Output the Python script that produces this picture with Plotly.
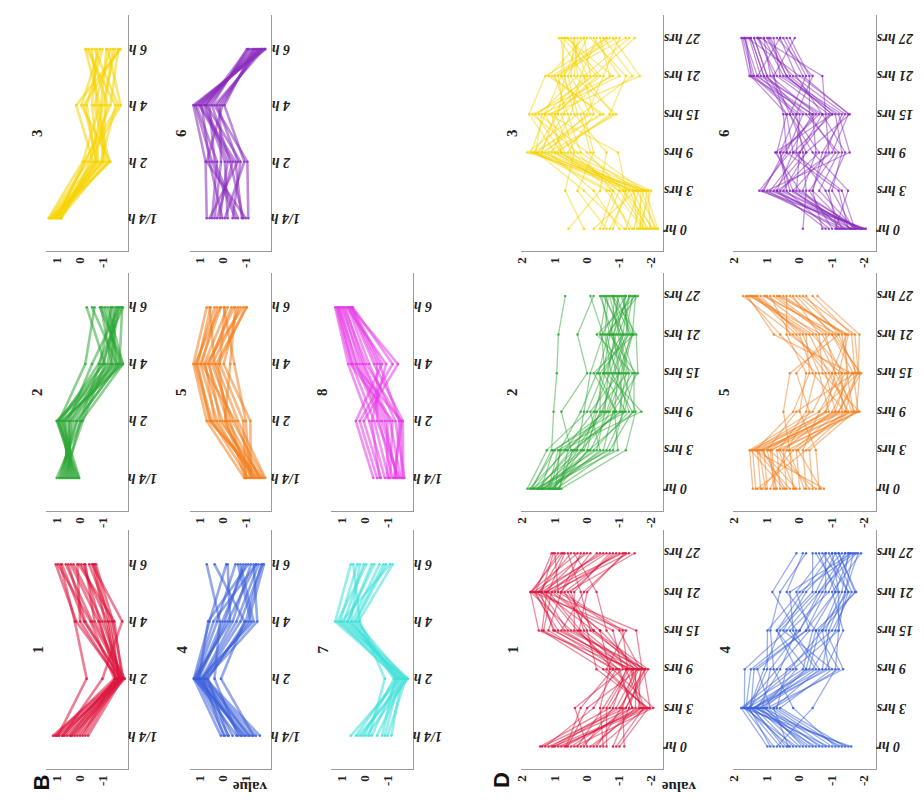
import plotly.graph_objects as go

# ---------------- data ----------------
B_TIMES = ["1/4 h", "2 h", "4 h", "6 h"]
D_TIMES = ["0 hr", "3 hrs", "9 hrs", "15 hrs", "21 hrs", "27 hrs"]
B_VALUE_TICKS = [1, 0, -1]
D_VALUE_TICKS = [2, 1, 0, -1, -2]

COLORS = {1: "#DC143C", 2: "#2EA836", 3: "#F5D300", 4: "#3A5FD9",
          5: "#F2801F", 6: "#8A2BBE", 7: "#3FE0D8", 8: "#E63CE6"}

# Panel B profiles (values at 1/4 h, 2 h, 4 h, 6 h)
B_CLUSTER_1 = [
    [1.45, -1.36, 0.45, 1.33], [1.30, -1.47, 0.11, 1.07], [1.19, -1.58, -0.23, 0.90],
    [1.07, -1.41, -0.51, 0.68], [0.96, -1.30, 0.28, 0.40], [0.85, -1.53, -0.68, 0.57],
    [0.73, -1.24, -0.90, 0.23], [0.62, -1.64, -0.34, 0.06], [0.51, -1.36, -1.07, -0.11],
    [0.40, -1.47, -0.79, -0.28], [0.28, -1.58, -1.13, -0.40], [0.17, -1.24, -0.57, 0.11],
    [0.06, -1.41, -0.96, -0.34], [-0.06, -1.53, -1.19, 0.34], [1.24, 0.00, 0.51, 1.13],
    [1.02, -0.68, -1.53, -0.23], [1.36, -1.19, -0.17, 1.24], [0.68, -1.47, 0.06, 0.79],
]
B_CLUSTER_2 = [
    [1.29, 0.23, -1.56, -0.57], [1.19, 0.40, -1.36, -0.79], [1.07, 0.57, -1.13, -1.02],
    [0.96, 0.73, -0.90, -1.24], [0.85, 0.90, -0.68, -1.47], [0.73, 1.02, -1.47, -0.68],
    [0.62, 1.13, -0.51, -1.56], [0.51, 1.24, -1.24, -1.13], [0.40, 1.29, -1.02, -1.36],
    [0.32, 1.07, -1.56, -0.90], [0.68, 0.79, -0.23, -1.41], [1.02, 0.17, -0.79, 0.00],
    [0.45, 1.19, 0.06, -0.34], [1.13, 0.45, -1.41, -1.53], [0.79, 0.68, -1.07, -0.62],
    [0.57, 0.96, -1.30, -0.23], [0.34, 1.24, -0.73, -1.30], [0.90, 0.28, -0.57, -1.07],
]
B_CLUSTER_3 = [
    [1.64, 0.17, -0.57, 0.06], [1.58, -0.06, -1.47, -0.90], [1.53, -0.28, 0.45, -1.47],
    [1.47, -0.51, -0.23, -0.45], [1.41, -0.73, -0.79, -1.13], [1.36, -0.96, -0.45, -0.23],
    [1.30, 0.06, -1.02, -1.36], [1.24, -0.40, 0.00, -0.68], [1.19, -0.62, -1.24, 0.00],
    [1.13, -0.85, -0.34, -1.02], [1.08, -0.17, -0.68, -1.24], [1.56, -1.02, 0.23, -0.57],
    [1.27, 0.11, -1.36, -0.34], [1.45, -0.68, -0.62, -0.85], [1.33, -0.34, -0.90, -0.11],
    [1.15, -0.45, 0.11, -1.41],
]
B_CLUSTER_4 = [
    [0.40, 1.58, 0.90, 0.17], [0.23, 1.47, 0.57, -0.23], [0.06, 1.36, 0.23, -0.57],
    [-0.11, 1.24, -0.11, -0.90], [-0.28, 1.53, 0.73, -1.13], [-0.45, 1.13, -0.45, -1.41],
    [-0.62, 1.41, 0.34, -0.68], [-0.79, 1.02, -0.79, -1.47], [-0.96, 1.30, -1.02, -0.45],
    [-1.13, 1.19, -0.28, -1.24], [-1.30, 1.07, -1.18, -1.02], [-0.68, 1.58, 0.00, 0.11],
    [-0.34, 0.68, 0.45, 1.02], [-1.02, 0.40, -0.62, 0.68], [0.11, 0.96, -0.68, -1.36],
    [-0.51, 1.36, 0.96, -0.79], [-0.85, 1.47, 0.11, -1.13], [0.28, 1.19, -0.90, -0.34],
]
B_CLUSTER_5 = [
    [-0.62, 1.02, 1.60, 1.02], [-0.79, 0.79, 1.47, 0.68], [-0.96, 0.57, 1.30, 0.40],
    [-1.13, 0.34, 1.13, 0.11], [-1.30, 0.11, 0.96, -0.17], [-1.47, -0.11, 0.79, -0.45],
    [-1.53, -0.34, 0.62, -0.73], [-0.68, -0.57, 0.45, 0.23], [-0.90, -0.88, 0.28, -0.34],
    [-1.36, 0.90, 1.41, 0.85], [-1.07, 0.68, 1.07, -0.57], [-1.24, -0.23, 1.24, 0.57],
    [-0.73, 0.00, 0.68, 0.90], [-1.41, 0.45, 0.90, -0.06], [-0.85, -0.68, -0.18, 0.28],
    [-1.02, 0.23, 0.00, -0.23], [-1.19, 0.85, 1.53, 0.45], [-0.66, 0.17, 0.51, -0.68],
]
B_CLUSTER_6 = [
    [1.02, 1.07, 1.60, -1.53], [0.79, 0.57, 1.47, -1.41], [0.57, -0.11, 1.36, -1.30],
    [0.34, 0.90, 1.24, -1.19], [0.11, 0.23, 1.13, -1.07], [-0.11, -0.45, 1.02, -0.96],
    [-0.34, 0.68, 0.90, -0.85], [-0.57, 0.00, 0.79, -0.73], [-0.79, -0.75, 0.68, -1.47],
    [0.90, -0.34, 0.57, -1.36], [0.68, 0.40, 0.45, -1.24], [-0.68, 1.02, 0.34, -1.13],
    [0.23, -0.62, 0.25, -1.02], [-0.23, 0.79, 1.53, -1.53], [0.45, 0.11, 1.07, -0.79],
    [-0.51, -0.23, 1.30, -1.36],
]
B_CLUSTER_7 = [
    [0.90, -1.24, 1.57, 0.90], [0.68, -1.07, 1.36, 0.62], [0.45, -1.36, 1.19, 0.34],
    [0.23, -1.56, 1.02, 0.00], [0.00, -1.13, 0.85, -0.34], [-0.23, -1.41, 0.68, -0.62],
    [-0.45, -1.02, 0.57, -0.90], [-0.68, -1.47, 1.47, 0.23], [-0.85, -1.30, 1.07, -0.11],
    [0.11, -0.57, 0.51, 0.79], [0.57, -1.53, 1.30, -0.79], [-0.57, -1.19, 0.90, 0.51],
    [0.34, -0.96, 0.73, -0.51],
]
B_CLUSTER_8 = [
    [-0.07, 0.68, -0.45, 0.85], [-0.23, 0.51, -0.90, 0.81], [-0.40, 0.34, -1.13, 0.90],
    [-0.57, 0.11, 1.01, 1.57], [-0.73, -0.11, 0.85, 1.47], [-0.90, -0.34, 0.68, 1.36],
    [-1.07, -0.57, 0.51, 1.24], [-1.24, -0.79, 0.34, 1.13], [-1.41, -1.02, 0.11, 1.02],
    [-1.36, -1.34, -0.11, 0.96], [-1.02, -1.19, -0.34, 0.88], [-0.79, -0.90, 0.90, 1.53],
    [-1.13, -0.45, 0.62, 1.41], [-1.30, -1.24, 0.23, 1.19], [-0.34, 0.00, -0.62, 1.07],
    [-0.68, -0.68, 0.40, 1.30], [-0.96, -1.30, 0.79, 1.45], [-1.19, -0.23, -0.23, 0.93],
]

# Panel D profiles (values at 0, 3, 9, 15, 21, 27 hrs)
D_CLUSTER_1 = [
    [1.66, -0.50, -1.20, 1.70, 1.96, 0.50], [1.40, -1.20, -0.80, 1.20, 1.80, 1.30],
    [1.20, -0.80, -1.60, 0.80, 1.60, -0.20], [1.00, -1.50, -1.00, 0.40, 1.40, 0.90],
    [0.80, 0.20, -1.40, -0.20, 1.20, -0.80], [0.60, -1.85, -0.60, 1.40, 1.00, 0.10],
    [0.40, -1.00, -1.69, 0.00, 0.80, -1.27], [0.20, 0.58, -0.90, -0.60, 1.70, 0.70],
    [0.00, -1.30, -1.30, 0.60, 0.60, -0.50], [-0.20, -1.60, -0.40, -1.00, 1.90, 1.10],
    [-0.40, -0.40, -1.10, 1.00, 0.30, -1.00], [-0.60, -1.10, -1.50, -1.32, 1.50, 0.30],
    [-0.80, -1.70, -0.09, 0.20, 0.90, -0.70], [-0.95, -0.90, -1.25, -0.40, -0.09, 0.60],
    [1.50, 0.00, -0.70, 1.55, 1.30, -1.10], [0.90, -1.40, -1.45, -0.80, 1.10, 1.20],
    [0.30, -0.60, -1.00, 0.90, 1.75, -0.30], [1.10, -1.75, -1.55, 0.10, 0.40, 0.80],
    [1.30, -0.70, -1.35, 1.10, 1.85, 0.20], [0.70, -1.20, -0.75, 0.50, 1.50, -0.90],
    [0.10, -1.45, -1.15, 1.25, 1.65, 0.95], [-0.30, -0.20, -0.50, -0.20, 1.30, -0.10],
    [1.60, -1.00, -1.60, 0.70, 1.95, 1.00], [-0.70, -1.55, -1.20, 0.30, 0.70, -0.60],
    [0.50, -0.30, -1.05, -0.90, 1.00, 0.40], [1.25, -1.65, -0.30, 1.60, 1.45, -0.40],
    [-0.10, -0.85, -1.40, 0.00, 1.60, 1.25], [0.85, 0.40, -0.60, 0.45, 0.20, -0.95],
]
D_CLUSTER_2 = [
    [2.05, 1.45, 0.20, -0.30, -0.50, -0.80], [1.95, 1.20, -0.40, -0.80, -0.20, -0.40],
    [1.85, 0.90, 0.00, -0.50, -0.90, -1.10], [1.75, 0.60, -0.80, -1.00, -0.60, -0.20],
    [1.65, 0.30, -0.20, -0.20, -1.10, -0.90], [1.55, 0.00, -1.10, -0.70, -0.40, -1.37],
    [1.45, -0.30, -0.60, -1.37, -1.32, -0.60], [1.35, 1.00, -1.48, -0.40, -0.70, -1.00],
    [1.25, 0.50, 0.30, 0.10, -0.30, 0.10], [1.15, -0.60, -0.90, -1.10, -0.80, -0.50],
    [1.05, 0.80, -0.30, -0.60, -1.00, -1.20], [1.00, -1.00, -1.30, -0.90, -1.20, -0.70],
    [1.90, 1.30, 1.24, 1.14, 1.09, 0.88], [1.70, 0.70, 1.00, 0.20, 0.50, 0.00],
    [1.60, 0.10, -0.50, -1.20, -0.10, -1.30], [1.40, 1.10, -1.00, -0.30, -0.95, -0.30],
    [1.30, -0.20, 0.10, -0.80, -0.60, -1.10], [1.20, 0.40, -0.70, 0.00, -1.25, -0.85],
    [1.80, -0.50, -1.20, -0.55, -0.35, -0.45], [1.10, 0.20, -0.10, -1.05, -0.75, -1.25],
    [1.98, 0.85, -0.45, -0.95, -0.55, -0.65], [1.50, 0.55, -0.25, -0.65, -1.05, -0.95],
    [1.62, 1.25, -0.70, -0.15, -0.45, -1.15], [1.28, 0.15, -1.25, -1.25, -0.85, -0.35],
    [1.72, -0.10, -0.35, -0.45, -0.65, -0.75], [1.08, 0.65, -0.85, -0.85, -1.15, -0.55],
    [1.88, 0.35, -0.05, -0.35, -0.25, -1.00], [1.38, -0.40, -0.95, -1.30, -0.50, -0.25],
    [1.18, 1.05, 0.40, -0.10, -0.90, -0.60], [1.58, -0.75, -0.65, -0.75, -1.20, -1.30],
]
D_CLUSTER_3 = [
    [-1.99, -1.60, 2.05, 0.50, 0.80, 0.20], [-1.80, -1.20, 1.60, 1.20, -0.20, 0.80],
    [-1.60, -0.80, 1.20, 2.00, 1.50, -0.40], [-1.40, -1.78, 0.80, 0.00, 0.30, 1.08],
    [-1.20, -0.40, 1.80, 1.60, -0.80, 0.00], [-1.00, -1.40, 0.40, 0.80, 1.20, -1.00],
    [-0.80, 0.00, 1.40, -0.70, 0.60, 0.50], [-0.60, -1.00, -0.76, 1.40, -1.43, -0.60],
    [-0.40, 0.50, 0.00, 0.30, 1.00, 0.90], [-0.20, -0.60, 1.00, 1.80, 0.00, -1.27],
    [0.00, -1.30, 1.90, -0.30, 1.40, 0.30], [0.30, 0.88, 0.60, 1.00, -0.50, -0.20],
    [0.78, -0.20, -0.40, 0.60, 0.90, 1.00], [-1.90, -1.50, 1.50, 0.20, -0.30, -0.80],
    [-1.70, -0.90, 0.20, 1.70, 0.50, 0.60], [-1.50, -1.65, 1.10, -0.50, -1.00, 0.10],
    [-1.10, -0.50, 1.70, 0.90, 1.10, -0.40], [-0.50, -1.10, 0.90, 1.50, 0.20, 0.70],
    [-1.95, -1.35, 1.30, 0.70, 0.40, -0.10], [-1.75, -1.70, 1.85, 1.10, 0.90, 0.40],
    [-1.55, -0.60, 0.50, 1.90, -0.60, 0.85], [-1.35, -1.25, 1.60, -0.20, 1.30, -0.70],
    [-1.85, -0.95, 1.00, 1.30, 0.10, 0.30], [-1.25, -1.55, 0.10, 0.40, -1.20, -0.30],
    [-0.95, 0.30, 1.75, 0.10, 0.70, 0.60], [-1.65, -1.10, 1.95, 1.50, 1.00, -0.50],
    [-0.30, -0.80, 0.70, 1.20, -0.10, 0.95], [-1.45, -1.45, 1.20, -0.60, 0.30, -1.10],
]
D_CLUSTER_4 = [
    [1.19, 2.00, 0.50, -0.50, -1.00, -0.80], [1.00, 1.90, 1.89, 0.60, -0.40, -1.20],
    [0.80, 1.80, -0.20, -0.90, -1.30, -0.50], [0.60, 1.70, 1.20, 1.19, 0.20, -1.50],
    [0.40, 1.60, 0.00, -0.30, -1.54, -1.00], [0.20, 1.50, 0.80, 0.30, 1.04, 0.30],
    [0.00, 1.40, -0.60, -1.14, -0.80, -1.69], [-0.20, 1.30, 0.30, 0.90, -0.20, -0.20],
    [-0.40, 1.20, -1.14, -0.60, -1.10, -1.30], [-0.60, 1.10, 1.50, 0.00, -0.60, -0.60],
    [-0.80, 1.00, -0.40, 0.40, 0.50, -1.40], [-1.00, 0.90, 0.60, -0.80, -1.40, -0.90],
    [-1.20, 0.80, -0.80, 0.70, 0.00, -1.10], [-1.39, 1.95, 0.10, -0.20, -0.90, -0.40],
    [0.90, -0.20, -0.90, -1.00, -1.20, -1.60], [-0.90, 0.40, 1.00, 1.10, 0.80, 0.00],
    [0.50, 1.85, 1.70, 0.20, -0.50, -1.30], [-0.50, 1.55, -0.10, -0.40, -1.30, -0.70],
    [1.10, 1.75, 1.30, 0.80, -0.30, -0.90], [0.70, 1.65, -0.50, -0.70, -1.20, -1.45],
    [0.30, 1.90, 0.90, -0.10, 0.30, -0.60], [-0.10, 1.45, -0.30, 0.50, -0.70, -1.20],
    [-0.70, 1.80, 0.40, -1.00, -1.00, -0.30], [-1.10, 1.35, 1.10, 0.20, -0.40, -1.55],
    [-1.30, 1.60, -0.70, -0.50, -1.50, -1.00], [0.10, 1.25, 0.00, 0.90, 0.10, -0.80],
    [-0.30, 1.70, 1.60, 0.00, -0.90, -1.35], [0.55, 1.00, -1.00, -0.30, 0.60, 0.10],
]
D_CLUSTER_5 = [
    [1.64, 1.74, -0.20, -0.80, 0.40, 1.94], [1.40, 1.50, -0.60, -1.20, -0.20, 1.60],
    [1.20, 1.30, -1.00, -1.69, -0.80, 1.20], [1.00, 1.10, -1.40, -1.00, -1.30, 0.80],
    [0.80, 0.90, -1.64, -0.50, -0.40, 0.40], [0.60, 0.70, -0.80, -1.40, 0.99, 1.80],
    [0.40, 0.50, 0.70, 0.50, -1.00, 0.00], [0.20, 0.30, -1.20, -0.20, 0.20, 1.40],
    [0.00, 0.10, -0.40, -1.60, -1.64, -0.35], [-0.20, -0.10, -1.50, -0.90, -0.60, 1.00],
    [-0.40, -0.30, 0.20, 0.00, 0.60, 0.60], [-0.55, 1.60, -0.90, -1.30, -1.10, 0.20],
    [1.50, 0.00, -1.30, -0.70, -0.10, 1.70], [0.90, 1.20, 0.30, -1.50, -1.40, -0.20],
    [0.30, 1.40, -1.10, -1.10, 0.50, 1.10], [1.10, 0.60, -0.10, 0.30, -0.70, 0.90],
    [-0.10, 0.80, -1.55, -1.65, -0.90, 0.50], [0.70, 1.70, -0.70, -0.40, 0.10, 1.50],
    [1.55, 1.65, -0.40, -1.10, -0.50, 1.75], [1.25, 1.45, -1.20, -1.55, -1.00, 1.30],
    [0.95, 1.05, -0.90, -0.60, 0.30, 1.55], [0.65, 1.35, -1.45, -1.25, -1.20, 0.70],
    [0.35, 0.85, 0.00, -0.30, 0.80, 1.85], [0.05, 0.55, -1.60, -1.45, -0.80, 0.30],
    [-0.30, 1.15, -0.60, -0.90, -0.30, 1.25], [1.35, 0.40, -1.00, -1.60, -1.50, 0.10],
    [0.50, 1.55, 0.40, -0.10, 0.00, 1.65], [-0.45, 0.25, -1.25, -0.80, -1.25, 0.85],
]
D_CLUSTER_6 = [
    [-1.84, 1.44, 0.50, -0.20, 1.74, 1.99], [-1.70, 0.80, -0.40, 0.40, 1.20, 1.60],
    [-1.60, 0.20, 0.95, -0.80, 0.60, 1.20], [-1.50, -0.40, -1.00, 0.00, 1.50, 0.80],
    [-1.40, 1.00, 0.00, -1.34, 0.20, 1.80], [-1.30, -1.00, 0.60, 0.70, 1.00, 0.35],
    [-1.20, 0.40, -0.70, -0.60, -0.50, 1.40], [-1.10, -0.60, 0.30, 0.20, 1.60, 1.90],
    [-1.00, 1.20, -1.34, -1.00, 0.80, 1.00], [-0.90, -1.29, -0.20, 0.50, 0.00, 0.60],
    [-0.70, 0.60, 0.80, -0.40, 1.30, 1.70], [-0.50, -0.20, -0.50, -1.20, 0.40, 1.50],
    [0.10, 0.00, 0.10, 0.30, -0.20, 0.90], [-1.75, 1.30, 0.70, -0.30, 1.10, 1.30],
    [-1.45, -0.80, -1.10, -0.90, 0.50, 1.10], [-1.25, 0.90, 0.40, 0.60, 1.70, 1.85],
    [-0.80, -0.10, -0.90, -0.10, -0.10, 0.50], [-1.65, 0.30, 0.20, -0.70, 0.90, 1.50],
    [-1.80, 1.10, 0.20, -0.50, 1.40, 1.75], [-1.55, 0.50, 0.80, 0.30, 1.65, 1.95],
    [-1.35, -0.20, -0.60, -1.10, 0.70, 1.30], [-1.15, 1.35, 0.60, 0.10, 1.20, 1.60],
    [-0.95, -0.70, -1.20, -0.50, 0.30, 0.80], [-1.70, 0.70, 0.00, 0.50, 1.00, 1.45],
    [-1.50, -1.10, 0.40, -0.80, 0.60, 1.15], [-1.05, 0.10, -0.30, -0.20, 1.50, 1.90],
    [-0.60, 0.90, -0.80, -1.30, 0.10, 0.70], [-1.40, 0.40, 0.90, 0.60, 1.30, 1.70],
]

# ---------------- layout (pixels in a 924x804 canvas) ----------------
W, H = 924, 804
B_COLS = [(38, 120), (182, 263), (323, 405)]
D_COLS = [(513, 655), (725, 868)]
ROWS = [(7, 243), (265, 503), (522, 761)]

# (section, col, row, cluster id, profiles)
PANELS = [
    ("B", 0, 0, 3, B_CLUSTER_3), ("B", 0, 1, 2, B_CLUSTER_2), ("B", 0, 2, 1, B_CLUSTER_1),
    ("B", 1, 0, 6, B_CLUSTER_6), ("B", 1, 1, 5, B_CLUSTER_5), ("B", 1, 2, 4, B_CLUSTER_4),
    ("B", 2, 1, 8, B_CLUSTER_8), ("B", 2, 2, 7, B_CLUSTER_7),
    ("D", 0, 0, 3, D_CLUSTER_3), ("D", 0, 1, 2, D_CLUSTER_2), ("D", 0, 2, 1, D_CLUSTER_1),
    ("D", 1, 0, 6, D_CLUSTER_6), ("D", 1, 1, 5, D_CLUSTER_5), ("D", 1, 2, 4, D_CLUSTER_4),
]


def px_x(p):
    return p / W


def px_y(p):
    return 1 - p / H


def rgba(hex_color, a):
    h = hex_color.lstrip("#")
    r, g, b = int(h[0:2], 16), int(h[2:4], 16), int(h[4:6], 16)
    return f"rgba({r},{g},{b},{a})"


SERIF = "Liberation Serif"
AXIS_COLOR = "#9a9a9a"

fig = go.Figure()
layout = dict(width=W, height=H, margin=dict(l=0, r=0, t=0, b=0, autoexpand=False),
              paper_bgcolor="white", plot_bgcolor="white", showlegend=False)
annotations = []

for i, (sec, c, r, cid, profiles) in enumerate(PANELS):
    n = i + 1
    xs = "x" if n == 1 else f"x{n}"
    ys = "y" if n == 1 else f"y{n}"
    x0, x1 = (B_COLS if sec == "B" else D_COLS)[c]
    y0, y1 = ROWS[r]
    times = B_TIMES if sec == "B" else D_TIMES
    vticks = B_VALUE_TICKS if sec == "B" else D_VALUE_TICKS
    xr = [1.75, -1.78] if sec == "B" else [2.25, -2.15]
    col = COLORS[cid]
    lw = 2.6 if sec == "B" else 1.3
    la = 0.55 if sec == "B" else 0.5
    for prof in profiles:
        fig.add_trace(go.Scatter(
            x=prof, y=list(range(len(times))), mode="lines+markers",
            line=dict(color=rgba(col, la), width=lw),
            marker=dict(size=2.5, color=rgba(col, 0.85)),
            xaxis=xs, yaxis=ys, hoverinfo="skip"))
    layout[f"xaxis{'' if n == 1 else n}"] = dict(
        domain=[px_x(x0), px_x(x1)], anchor=ys, range=xr, automargin=False,
        tickmode="array", tickvals=vticks, ticktext=[str(v) for v in vticks],
        tickangle=-90, ticklabelshift=7, showline=True, linecolor=AXIS_COLOR, linewidth=1,
        showgrid=False, zeroline=False, ticks="", ticklen=0,
        tickfont=dict(family=SERIF, size=13, color="#222", weight="bold"))
    layout[f"yaxis{'' if n == 1 else n}"] = dict(
        domain=[px_y(y1), px_y(y0)], anchor=xs, side="right", automargin=False,
        range=[-0.58, len(times) - 1 + 0.6],
        tickmode="array", tickvals=list(range(len(times))), showticklabels=False,
        showline=True, linecolor=AXIS_COLOR, linewidth=1,
        showgrid=False, zeroline=False, ticks="")
    # time labels, upside down, just right of the time axis
    for k, t in enumerate(times):
        annotations.append(dict(
            text=t, x=1, xref=f"{xs} domain", y=k, yref=ys, xanchor="left",
            yanchor="middle", xshift=-2, showarrow=False, textangle=180,
            font=dict(family=SERIF, size=14, color="#222", weight="bold", style="italic")))
    annotations.append(dict(
        text=str(cid), x=px_x(x0 - 9), y=px_y((y0 + y1) / 2), xref="paper", yref="paper",
        showarrow=False, textangle=-90, xanchor="center", yanchor="middle",
        font=dict(family=SERIF, size=15, color="#222", weight="bold")))

# section letters and shared axis labels
annotations += [
    dict(text="B", x=px_x(18), y=px_y(785), xref="paper", yref="paper", showarrow=False,
         textangle=-90, font=dict(family="Liberation Sans", size=22, color="#111", weight="bold")),
    dict(text="D", x=px_x(493), y=px_y(782), xref="paper", yref="paper", showarrow=False,
         textangle=-90, font=dict(family="Liberation Sans", size=22, color="#111", weight="bold")),
    dict(text="value", x=px_x(222), y=px_y(789), xref="paper", yref="paper", showarrow=False,
         textangle=180, font=dict(family=SERIF, size=15, color="#222", weight="bold")),
    dict(text="value", x=px_x(690), y=px_y(789), xref="paper", yref="paper", showarrow=False,
         textangle=180, font=dict(family=SERIF, size=15, color="#222", weight="bold")),
]
layout["annotations"] = annotations
fig.update_layout(**layout)
fig.write_html("out.html")
